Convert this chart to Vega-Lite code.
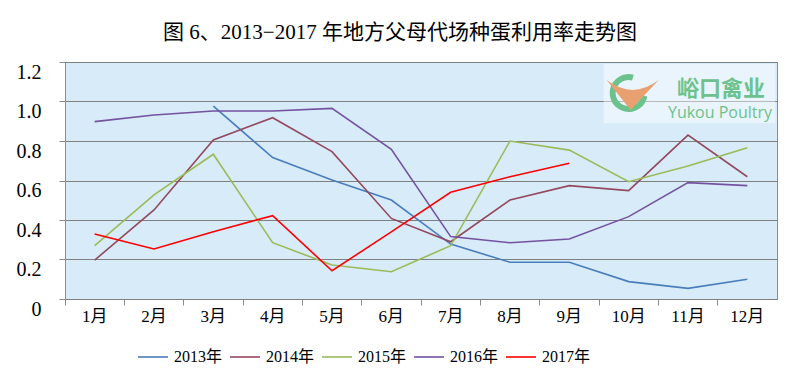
{
  "$schema": "https://vega.github.io/schema/vega-lite/v6.json",
  "width": 712,
  "height": 237,
  "autosize": {"type": "none"},
  "padding": {"left": 65, "top": 62, "right": 23, "bottom": 80},
  "background": "white",
  "title": {
    "text": "图 6、2013−2017 年地方父母代场种蛋利用率走势图",
    "font": "Liberation Serif, Noto Sans CJK SC",
    "fontSize": 21,
    "fontWeight": "normal",
    "color": "#000000",
    "anchor": "middle",
    "dx": -21,
    "offset": 19
  },
  "config": {
    "view": {"stroke": "#8c8c8c", "strokeWidth": 1, "fill": "#d7ebf9"},
    "axis": {"labelFont": "Liberation Serif, Noto Sans CJK SC", "labelColor": "#000000"}
  },
  "datasets": {
    "rates": [
      {"month": "3月", "year": "2013年", "value": 0.977},
      {"month": "4月", "year": "2013年", "value": 0.716},
      {"month": "5月", "year": "2013年", "value": 0.603},
      {"month": "6月", "year": "2013年", "value": 0.501},
      {"month": "7月", "year": "2013年", "value": 0.278},
      {"month": "8月", "year": "2013年", "value": 0.186},
      {"month": "9月", "year": "2013年", "value": 0.186},
      {"month": "10月", "year": "2013年", "value": 0.088},
      {"month": "11月", "year": "2013年", "value": 0.054},
      {"month": "12月", "year": "2013年", "value": 0.1},
      {"month": "1月", "year": "2014年", "value": 0.197},
      {"month": "2月", "year": "2014年", "value": 0.451},
      {"month": "3月", "year": "2014年", "value": 0.805},
      {"month": "4月", "year": "2014年", "value": 0.918},
      {"month": "5月", "year": "2014年", "value": 0.746},
      {"month": "6月", "year": "2014年", "value": 0.408},
      {"month": "7月", "year": "2014年", "value": 0.29},
      {"month": "8月", "year": "2014年", "value": 0.501},
      {"month": "9月", "year": "2014年", "value": 0.574},
      {"month": "10月", "year": "2014年", "value": 0.549},
      {"month": "11月", "year": "2014年", "value": 0.83},
      {"month": "12月", "year": "2014年", "value": 0.619},
      {"month": "1月", "year": "2015年", "value": 0.27},
      {"month": "2月", "year": "2015年", "value": 0.527},
      {"month": "3月", "year": "2015年", "value": 0.733},
      {"month": "4月", "year": "2015年", "value": 0.285},
      {"month": "5月", "year": "2015年", "value": 0.172},
      {"month": "6月", "year": "2015年", "value": 0.138},
      {"month": "7月", "year": "2015年", "value": 0.27},
      {"month": "8月", "year": "2015年", "value": 0.8},
      {"month": "9月", "year": "2015年", "value": 0.754},
      {"month": "10月", "year": "2015年", "value": 0.594},
      {"month": "11月", "year": "2015年", "value": 0.673},
      {"month": "12月", "year": "2015年", "value": 0.766},
      {"month": "1月", "year": "2016年", "value": 0.898},
      {"month": "2月", "year": "2016年", "value": 0.932},
      {"month": "3月", "year": "2016年", "value": 0.952},
      {"month": "4月", "year": "2016年", "value": 0.952},
      {"month": "5月", "year": "2016年", "value": 0.965},
      {"month": "6月", "year": "2016年", "value": 0.758},
      {"month": "7月", "year": "2016年", "value": 0.316},
      {"month": "8月", "year": "2016年", "value": 0.285},
      {"month": "9月", "year": "2016年", "value": 0.304},
      {"month": "10月", "year": "2016年", "value": 0.417},
      {"month": "11月", "year": "2016年", "value": 0.589},
      {"month": "12月", "year": "2016年", "value": 0.574},
      {"month": "1月", "year": "2017年", "value": 0.329},
      {"month": "2月", "year": "2017年", "value": 0.253},
      {"month": "3月", "year": "2017年", "value": 0.341},
      {"month": "4月", "year": "2017年", "value": 0.422},
      {"month": "5月", "year": "2017年", "value": 0.143},
      {"month": "6月", "year": "2017年", "value": 0.34},
      {"month": "7月", "year": "2017年", "value": 0.54},
      {"month": "8月", "year": "2017年", "value": 0.619},
      {"month": "9月", "year": "2017年", "value": 0.687}
    ]
  },
  "layer": [
    {
      "data": {"name": "rates"},
      "mark": {"type": "line", "strokeWidth": 1.6},
      "encoding": {
        "x": {
          "field": "month",
          "type": "nominal",
          "scale": {"domain": ["1月","2月","3月","4月","5月","6月","7月","8月","9月","10月","11月","12月"], "paddingInner": 0, "paddingOuter": 0},
          "axis": {
            "title": null,
            "labelAngle": 0,
            "labelFontSize": 17,
            "labelPadding": 3,
            "bandPosition": 0,
            "ticks": true,
            "tickSize": 6,
            "tickColor": "#8c8c8c",
            "domain": false,
            "grid": false
          }
        },
        "y": {
          "field": "value",
          "type": "quantitative",
          "scale": {"domain": [0, 1.2], "nice": false},
          "axis": {
            "title": null,
            "values": [0, 0.2, 0.4, 0.6, 0.8, 1.0, 1.2],
            "tickCount": 12,
            "labelExpr": "datum.value == 0 ? '0' : format(datum.value, '.1f')",
            "labelOverlap": false,
            "labelBound": false,
            "labelFlush": false,
            "labelFontSize": 20,
            "labelPadding": 18,
            "labelOffset": 10,
            "ticks": true,
            "tickSize": 6,
            "tickColor": "#8c8c8c",
            "domainColor": "#8c8c8c",
            "grid": true,
            "gridColor": "#7f7f7f",
            "gridWidth": 1.2,
            "gridOpacity": 1
          }
        },
        "color": {
          "field": "year",
          "type": "nominal",
          "scale": {
            "domain": ["2013年","2014年","2015年","2016年","2017年"],
            "range": ["#4a7ebb","#94495e","#9bbb59","#7452a0","#ff0000"]
          },
          "legend": {
            "title": null,
            "orient": "none",
            "direction": "horizontal",
            "legendX": 72,
            "legendY": 279,
            "symbolType": "stroke",
            "symbolSize": 900,
            "symbolStrokeWidth": 2.5,
            "labelFont": "Liberation Serif, Noto Sans CJK SC",
            "labelFontSize": 16,
            "labelColor": "#000000",
            "labelOffset": 5,
            "columnPadding": 3
          }
        },
        "strokeWidth": {
          "field": "year",
          "type": "nominal",
          "scale": {"domain": ["2013年","2014年","2015年","2016年","2017年"], "range": [1.6,1.6,1.6,1.6,2.8]},
          "legend": null
        }
      }
    },
    {
      "data": {"values": [{}]},
      "mark": {"type": "rect", "fill": "#ffffff", "opacity": 0.45, "xOffset": -25, "x2Offset": 28},
      "encoding": {
        "x": {"datum": "10月"},
        "x2": {"datum": "12月"},
        "y": {"datum": 1.19},
        "y2": {"datum": 0.89}
      }
    },
    {
      "data": {"values": [{}]},
      "mark": {"type": "arc", "innerRadius": 13, "outerRadius": 19, "theta": 1.75, "theta2": 6.55, "color": "#6cc28c"},
      "encoding": {"x": {"datum": "10月"}, "y": {"datum": 1.043}}
    },
    {
      "data": {"values": [{}]},
      "mark": {"type": "point", "shape": "M -1 -0.5 Q 0 0.26 1 -0.5 L -0.08 0.65 Z", "size": 2700, "filled": true, "color": "#e8a070", "opacity": 1, "xOffset": 4, "yOffset": 0},
      "encoding": {"x": {"datum": "10月"}, "y": {"datum": 1.043}}
    },
    {
      "data": {"values": [{}]},
      "mark": {"type": "text", "text": "峪口禽业", "font": "Noto Sans CJK SC", "fontSize": 22, "fontWeight": "bold", "letterSpacing": 3, "baseline": "alphabetic", "color": "#6cc28c", "dx": 33},
      "encoding": {"x": {"datum": "11月"}, "y": {"datum": 1.028}}
    },
    {
      "data": {"values": [{}]},
      "mark": {"type": "text", "text": "Yukou Poultry", "font": "Open Sans", "fontSize": 16, "baseline": "alphabetic", "color": "#6cc28c", "dx": 32},
      "encoding": {"x": {"datum": "11月"}, "y": {"datum": 0.915}}
    }
  ]
}
